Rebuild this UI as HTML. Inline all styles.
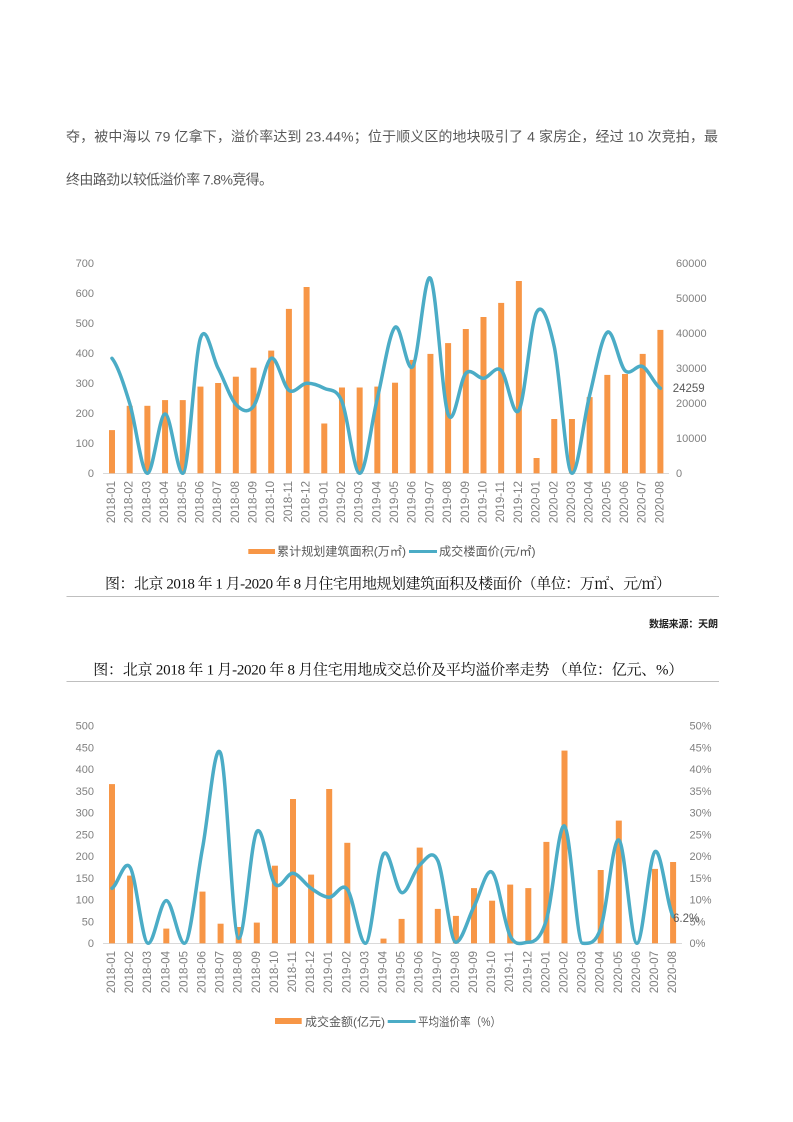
<!DOCTYPE html>
<html><head><meta charset="utf-8">
<style>
html,body{margin:0;padding:0;background:#fff;}
svg{display:block;}
.s{font-family:"Liberation Sans","Noto Sans CJK SC",sans-serif;}
.sf{font-family:"Liberation Serif","Noto Serif CJK SC",serif;}
.tk{font-size:11px;fill:#808080;}
.xl{font-size:11.5px;fill:#808080;}
</style></head>
<body>
<svg width="793" height="1122" viewBox="0 0 793 1122" xmlns="http://www.w3.org/2000/svg">
<rect width="793" height="1122" fill="#fff"/>
<!-- paragraph -->
<text class="s" x="66" y="141.5" font-size="14" fill="#595959" textLength="652" lengthAdjust="spacing">夺，被中海以 79 亿拿下，溢价率达到 23.44%；位于顺义区的地块吸引了 4 家房企，经过 10 次竞拍，最</text>
<text class="s" x="66" y="184.3" font-size="14" fill="#595959" textLength="207" lengthAdjust="spacing">终由路劲以较低溢价率 7.8%竞得。</text>

<!-- ================= CHART 1 ================= -->
<g class="s tk" text-anchor="end">
<text x="94" y="473.3" dy="0.35em">0</text>
<text x="94" y="443.3" dy="0.35em">100</text>
<text x="94" y="413.3" dy="0.35em">200</text>
<text x="94" y="383.3" dy="0.35em">300</text>
<text x="94" y="353.3" dy="0.35em">400</text>
<text x="94" y="323.3" dy="0.35em">500</text>
<text x="94" y="293.3" dy="0.35em">600</text>
<text x="94" y="263.3" dy="0.35em">700</text>
</g>
<g class="s tk" text-anchor="start">
<text x="676" y="473.3" dy="0.35em">0</text>
<text x="676" y="438.3" dy="0.35em">10000</text>
<text x="676" y="403.3" dy="0.35em">20000</text>
<text x="676" y="368.3" dy="0.35em">30000</text>
<text x="676" y="333.3" dy="0.35em">40000</text>
<text x="676" y="298.3" dy="0.35em">50000</text>
<text x="676" y="263.3" dy="0.35em">60000</text>
</g>
<line x1="103" y1="473.5" x2="669" y2="473.5" stroke="#d9d9d9" stroke-width="1"/>
<g fill="#F79646">
<rect x="109" y="430.1" width="6" height="43.2"/>
<rect x="126.69" y="405.8" width="6" height="67.5"/>
<rect x="144.38" y="405.8" width="6" height="67.5"/>
<rect x="162.07" y="400.1" width="6" height="73.2"/>
<rect x="179.76" y="400.1" width="6" height="73.2"/>
<rect x="197.45" y="386.6" width="6" height="86.7"/>
<rect x="215.14" y="383" width="6" height="90.3"/>
<rect x="232.83" y="376.7" width="6" height="96.6"/>
<rect x="250.52" y="367.7" width="6" height="105.6"/>
<rect x="268.21" y="350.6" width="6" height="122.7"/>
<rect x="285.9" y="308.9" width="6" height="164.4"/>
<rect x="303.59" y="287" width="6" height="186.3"/>
<rect x="321.28" y="423.5" width="6" height="49.8"/>
<rect x="338.97" y="387.5" width="6" height="85.8"/>
<rect x="356.66" y="387.5" width="6" height="85.8"/>
<rect x="374.35" y="386.6" width="6" height="86.7"/>
<rect x="392.04" y="382.7" width="6" height="90.6"/>
<rect x="409.73" y="359.9" width="6" height="113.4"/>
<rect x="427.42" y="353.9" width="6" height="119.4"/>
<rect x="445.11" y="343.1" width="6" height="130.2"/>
<rect x="462.8" y="329" width="6" height="144.3"/>
<rect x="480.49" y="317" width="6" height="156.3"/>
<rect x="498.18" y="302.9" width="6" height="170.4"/>
<rect x="515.87" y="281" width="6" height="192.3"/>
<rect x="533.56" y="458" width="6" height="15.3"/>
<rect x="551.25" y="419" width="6" height="54.3"/>
<rect x="568.94" y="419" width="6" height="54.3"/>
<rect x="586.63" y="397.1" width="6" height="76.2"/>
<rect x="604.32" y="374.9" width="6" height="98.4"/>
<rect x="622.01" y="374" width="6" height="99.3"/>
<rect x="639.7" y="353.9" width="6" height="119.4"/>
<rect x="657.39" y="329.9" width="6" height="143.4"/>
</g>
<path fill="none" stroke="#4BACC6" stroke-width="3.5" stroke-linecap="round" stroke-linejoin="round" d="M112,358.3 C117.9,365.8 123.79,384.13 129.69,403.3 S141.48,473.3 147.38,473.3 S159.17,414 165.07,414 S176.86,473.3 182.76,473.3 S194.55,355.8 200.45,338.3 S212.24,357.3 218.14,368.3 S229.93,397.97 235.83,404.3 S247.62,413.97 253.52,406.3 S265.31,360.97 271.21,358.3 S283,386.13 288.9,390.3 S300.69,383.63 306.59,383.3 S318.38,385.25 324.28,388.3 S336.07,387.43 341.97,401.6 S353.76,473.3 359.66,473.3 S371.45,422.63 377.35,398.3 S389.14,332.58 395.04,327.3 S406.83,374.77 412.73,366.6 S424.52,270.35 430.42,278.3 S442.21,398.47 448.11,414.3 S459.9,379.3 465.8,373.3 S477.59,378.8 483.49,378.3 S495.28,364.97 501.18,370.3 S512.97,419.97 518.87,410.3 S530.66,322.92 536.56,312.3 S548.35,319.77 554.25,346.6 S566.04,473.3 571.94,473.3 S583.73,418.8 589.63,395.3 S601.42,336.42 607.32,332.3 S619.11,364.88 625.01,370.6 S636.8,363.65 642.7,366.6 S654.49,384.68 660.39,388.3"/>
<text class="s" x="672.7" y="388" dy="0.35em" font-size="11.5" fill="#595959">24259</text>
<g class="s xl" text-anchor="end">
<text x="111" y="481" dy="0.35em" transform="rotate(-90 111 481)">2018-01</text>
<text x="128.69" y="481" dy="0.35em" transform="rotate(-90 128.69 481)">2018-02</text>
<text x="146.38" y="481" dy="0.35em" transform="rotate(-90 146.38 481)">2018-03</text>
<text x="164.07" y="481" dy="0.35em" transform="rotate(-90 164.07 481)">2018-04</text>
<text x="181.76" y="481" dy="0.35em" transform="rotate(-90 181.76 481)">2018-05</text>
<text x="199.45" y="481" dy="0.35em" transform="rotate(-90 199.45 481)">2018-06</text>
<text x="217.14" y="481" dy="0.35em" transform="rotate(-90 217.14 481)">2018-07</text>
<text x="234.83" y="481" dy="0.35em" transform="rotate(-90 234.83 481)">2018-08</text>
<text x="252.52" y="481" dy="0.35em" transform="rotate(-90 252.52 481)">2018-09</text>
<text x="270.21" y="481" dy="0.35em" transform="rotate(-90 270.21 481)">2018-10</text>
<text x="287.9" y="481" dy="0.35em" transform="rotate(-90 287.9 481)">2018-11</text>
<text x="305.59" y="481" dy="0.35em" transform="rotate(-90 305.59 481)">2018-12</text>
<text x="323.28" y="481" dy="0.35em" transform="rotate(-90 323.28 481)">2019-01</text>
<text x="340.97" y="481" dy="0.35em" transform="rotate(-90 340.97 481)">2019-02</text>
<text x="358.66" y="481" dy="0.35em" transform="rotate(-90 358.66 481)">2019-03</text>
<text x="376.35" y="481" dy="0.35em" transform="rotate(-90 376.35 481)">2019-04</text>
<text x="394.04" y="481" dy="0.35em" transform="rotate(-90 394.04 481)">2019-05</text>
<text x="411.73" y="481" dy="0.35em" transform="rotate(-90 411.73 481)">2019-06</text>
<text x="429.42" y="481" dy="0.35em" transform="rotate(-90 429.42 481)">2019-07</text>
<text x="447.11" y="481" dy="0.35em" transform="rotate(-90 447.11 481)">2019-08</text>
<text x="464.8" y="481" dy="0.35em" transform="rotate(-90 464.8 481)">2019-09</text>
<text x="482.49" y="481" dy="0.35em" transform="rotate(-90 482.49 481)">2019-10</text>
<text x="500.18" y="481" dy="0.35em" transform="rotate(-90 500.18 481)">2019-11</text>
<text x="517.87" y="481" dy="0.35em" transform="rotate(-90 517.87 481)">2019-12</text>
<text x="535.56" y="481" dy="0.35em" transform="rotate(-90 535.56 481)">2020-01</text>
<text x="553.25" y="481" dy="0.35em" transform="rotate(-90 553.25 481)">2020-02</text>
<text x="570.94" y="481" dy="0.35em" transform="rotate(-90 570.94 481)">2020-03</text>
<text x="588.63" y="481" dy="0.35em" transform="rotate(-90 588.63 481)">2020-04</text>
<text x="606.32" y="481" dy="0.35em" transform="rotate(-90 606.32 481)">2020-05</text>
<text x="624.01" y="481" dy="0.35em" transform="rotate(-90 624.01 481)">2020-06</text>
<text x="641.7" y="481" dy="0.35em" transform="rotate(-90 641.7 481)">2020-07</text>
<text x="659.39" y="481" dy="0.35em" transform="rotate(-90 659.39 481)">2020-08</text>
</g>
<!-- legend 1 -->
<rect x="248.3" y="549" width="26.7" height="5" fill="#F79646"/>
<text class="s" x="277" y="555.3" font-size="12" fill="#595959" textLength="129" lengthAdjust="spacingAndGlyphs">累计规划建筑面积(万㎡)</text>
<line x1="409" y1="551.5" x2="437" y2="551.5" stroke="#4BACC6" stroke-width="3"/>
<text class="s" x="439" y="555.3" font-size="12" fill="#595959" textLength="96.6" lengthAdjust="spacingAndGlyphs">成交楼面价(元/㎡)</text>

<!-- captions -->
<text class="sf" x="105" y="588.5" font-size="15" fill="#111" textLength="566" lengthAdjust="spacing">图：北京 2018 年 1 月-2020 年 8 月住宅用地规划建筑面积及楼面价（单位：万㎡、元/㎡）</text>
<line x1="66.5" y1="596.5" x2="719" y2="596.5" stroke="#bfbfbf" stroke-width="1"/>
<text class="s" x="649" y="627.6" font-size="10" font-weight="bold" fill="#222" textLength="69" lengthAdjust="spacing">数据来源：天朗</text>
<text class="sf" x="93.3" y="674.5" font-size="15" fill="#111" textLength="590" lengthAdjust="spacing">图：北京 2018 年 1 月-2020 年 8 月住宅用地成交总价及平均溢价率走势 （单位：亿元、%）</text>
<line x1="66.5" y1="681.5" x2="719" y2="681.5" stroke="#bfbfbf" stroke-width="1"/>

<!-- ================= CHART 2 ================= -->
<g class="s tk" text-anchor="end">
<text x="94" y="943.3" dy="0.35em">0</text>
<text x="94" y="921.55" dy="0.35em">50</text>
<text x="94" y="899.8" dy="0.35em">100</text>
<text x="94" y="878.05" dy="0.35em">150</text>
<text x="94" y="856.3" dy="0.35em">200</text>
<text x="94" y="834.55" dy="0.35em">250</text>
<text x="94" y="812.8" dy="0.35em">300</text>
<text x="94" y="791.05" dy="0.35em">350</text>
<text x="94" y="769.3" dy="0.35em">400</text>
<text x="94" y="747.55" dy="0.35em">450</text>
<text x="94" y="725.8" dy="0.35em">500</text>
</g>
<g class="s tk" text-anchor="start">
<text x="689.5" y="943.3" dy="0.35em">0%</text>
<text x="689.5" y="921.55" dy="0.35em">5%</text>
<text x="689.5" y="899.8" dy="0.35em">10%</text>
<text x="689.5" y="878.05" dy="0.35em">15%</text>
<text x="689.5" y="856.3" dy="0.35em">20%</text>
<text x="689.5" y="834.55" dy="0.35em">25%</text>
<text x="689.5" y="812.8" dy="0.35em">30%</text>
<text x="689.5" y="791.05" dy="0.35em">35%</text>
<text x="689.5" y="769.3" dy="0.35em">40%</text>
<text x="689.5" y="747.55" dy="0.35em">45%</text>
<text x="689.5" y="725.8" dy="0.35em">50%</text>
</g>
<line x1="103" y1="943.5" x2="682" y2="943.5" stroke="#d9d9d9" stroke-width="1"/>
<g fill="#F79646">
<rect x="109" y="784.1" width="6" height="159.2"/>
<rect x="127.1" y="875.6" width="6" height="67.7"/>
<rect x="163.3" y="928.6" width="6" height="14.7"/>
<rect x="199.5" y="891.6" width="6" height="51.7"/>
<rect x="217.6" y="923.7" width="6" height="19.6"/>
<rect x="235.7" y="927" width="6" height="16.3"/>
<rect x="253.8" y="922.6" width="6" height="20.7"/>
<rect x="271.9" y="865.7" width="6" height="77.6"/>
<rect x="290" y="799" width="6" height="144.3"/>
<rect x="308.1" y="874.6" width="6" height="68.7"/>
<rect x="326.2" y="789" width="6" height="154.3"/>
<rect x="344.3" y="842.8" width="6" height="100.5"/>
<rect x="380.5" y="938.6" width="6" height="4.7"/>
<rect x="398.6" y="918.9" width="6" height="24.4"/>
<rect x="416.7" y="847.6" width="6" height="95.7"/>
<rect x="434.8" y="908.9" width="6" height="34.4"/>
<rect x="452.9" y="915.9" width="6" height="27.4"/>
<rect x="471" y="888.1" width="6" height="55.2"/>
<rect x="489.1" y="900.7" width="6" height="42.6"/>
<rect x="507.2" y="884.6" width="6" height="58.7"/>
<rect x="525.3" y="888.1" width="6" height="55.2"/>
<rect x="543.4" y="841.9" width="6" height="101.4"/>
<rect x="561.5" y="750.6" width="6" height="192.7"/>
<rect x="597.7" y="870" width="6" height="73.3"/>
<rect x="615.8" y="820.6" width="6" height="122.7"/>
<rect x="652" y="868.9" width="6" height="74.4"/>
<rect x="670.1" y="862" width="6" height="81.3"/>
</g>
<path fill="none" stroke="#4BACC6" stroke-width="3.5" stroke-linecap="round" stroke-linejoin="round" d="M112,888.3 C118.03,884.8 124.07,858.13 130.1,867.3 S142.17,943.3 148.2,943.3 S160.27,900.6 166.3,900.6 S178.37,943.3 184.4,943.3 S196.47,879.97 202.5,848.3 S214.57,738.3 220.6,753.3 S232.67,938.3 238.7,938.3 S250.77,840.65 256.8,831.6 S268.87,877.05 274.9,884 S286.97,872.58 293,873.3 S305.07,884.3 311.1,888.3 S323.17,897.13 329.2,897.3 S341.27,881.63 347.3,889.3 S359.37,943.3 365.4,943.3 S377.47,862.45 383.5,854 S395.57,890.77 401.6,892.6 S413.67,870.33 419.7,865 S431.77,847.72 437.8,860.6 S449.87,942.3 455.9,942.3 S467.97,918.27 474,906.6 S486.07,867.4 492.1,872.3 S504.17,924.33 510.2,936 S522.27,942.3 528.3,942.3 S540.37,939.38 546.4,920 S558.47,822.12 564.5,826 S576.57,943.3 582.6,943.3 S594.67,945.52 600.7,928.3 S612.77,837.5 618.8,840 S630.87,943.3 636.9,943.3 S648.97,856.05 655,851.6 S667.07,905.77 673.1,916.6"/>
<text class="s" x="673" y="918" dy="0.35em" font-size="11.5" fill="#595959">6.2%</text>
<g class="s xl" text-anchor="end">
<text x="111" y="951" dy="0.35em" transform="rotate(-90 111 951)">2018-01</text>
<text x="129.1" y="951" dy="0.35em" transform="rotate(-90 129.1 951)">2018-02</text>
<text x="147.2" y="951" dy="0.35em" transform="rotate(-90 147.2 951)">2018-03</text>
<text x="165.3" y="951" dy="0.35em" transform="rotate(-90 165.3 951)">2018-04</text>
<text x="183.4" y="951" dy="0.35em" transform="rotate(-90 183.4 951)">2018-05</text>
<text x="201.5" y="951" dy="0.35em" transform="rotate(-90 201.5 951)">2018-06</text>
<text x="219.6" y="951" dy="0.35em" transform="rotate(-90 219.6 951)">2018-07</text>
<text x="237.7" y="951" dy="0.35em" transform="rotate(-90 237.7 951)">2018-08</text>
<text x="255.8" y="951" dy="0.35em" transform="rotate(-90 255.8 951)">2018-09</text>
<text x="273.9" y="951" dy="0.35em" transform="rotate(-90 273.9 951)">2018-10</text>
<text x="292" y="951" dy="0.35em" transform="rotate(-90 292 951)">2018-11</text>
<text x="310.1" y="951" dy="0.35em" transform="rotate(-90 310.1 951)">2018-12</text>
<text x="328.2" y="951" dy="0.35em" transform="rotate(-90 328.2 951)">2019-01</text>
<text x="346.3" y="951" dy="0.35em" transform="rotate(-90 346.3 951)">2019-02</text>
<text x="364.4" y="951" dy="0.35em" transform="rotate(-90 364.4 951)">2019-03</text>
<text x="382.5" y="951" dy="0.35em" transform="rotate(-90 382.5 951)">2019-04</text>
<text x="400.6" y="951" dy="0.35em" transform="rotate(-90 400.6 951)">2019-05</text>
<text x="418.7" y="951" dy="0.35em" transform="rotate(-90 418.7 951)">2019-06</text>
<text x="436.8" y="951" dy="0.35em" transform="rotate(-90 436.8 951)">2019-07</text>
<text x="454.9" y="951" dy="0.35em" transform="rotate(-90 454.9 951)">2019-08</text>
<text x="473" y="951" dy="0.35em" transform="rotate(-90 473 951)">2019-09</text>
<text x="491.1" y="951" dy="0.35em" transform="rotate(-90 491.1 951)">2019-10</text>
<text x="509.2" y="951" dy="0.35em" transform="rotate(-90 509.2 951)">2019-11</text>
<text x="527.3" y="951" dy="0.35em" transform="rotate(-90 527.3 951)">2019-12</text>
<text x="545.4" y="951" dy="0.35em" transform="rotate(-90 545.4 951)">2020-01</text>
<text x="563.5" y="951" dy="0.35em" transform="rotate(-90 563.5 951)">2020-02</text>
<text x="581.6" y="951" dy="0.35em" transform="rotate(-90 581.6 951)">2020-03</text>
<text x="599.7" y="951" dy="0.35em" transform="rotate(-90 599.7 951)">2020-04</text>
<text x="617.8" y="951" dy="0.35em" transform="rotate(-90 617.8 951)">2020-05</text>
<text x="635.9" y="951" dy="0.35em" transform="rotate(-90 635.9 951)">2020-06</text>
<text x="654" y="951" dy="0.35em" transform="rotate(-90 654 951)">2020-07</text>
<text x="672.1" y="951" dy="0.35em" transform="rotate(-90 672.1 951)">2020-08</text>
</g>
<!-- legend 2 -->
<rect x="275" y="1018" width="26.7" height="6" fill="#F79646"/>
<text class="s" x="305" y="1026" font-size="12" fill="#595959" textLength="80" lengthAdjust="spacingAndGlyphs">成交金额(亿元)</text>
<line x1="387.7" y1="1021.5" x2="415.7" y2="1021.5" stroke="#4BACC6" stroke-width="3"/>
<text class="s" x="418" y="1026" font-size="12" fill="#595959" textLength="83" lengthAdjust="spacingAndGlyphs">平均溢价率（%）</text>
</svg>
</body></html>
